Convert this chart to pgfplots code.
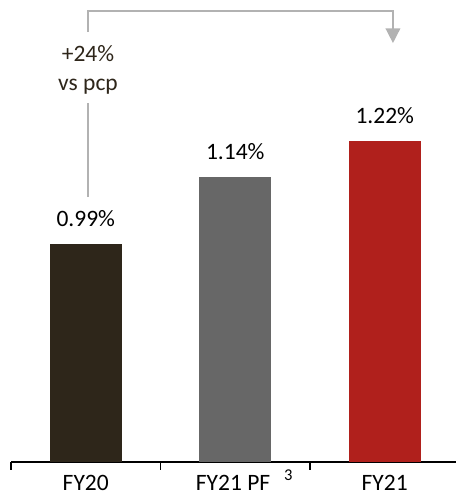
\documentclass[border=0pt]{standalone}
\usepackage{fontspec}
\setmainfont{Carlito}
\usepackage{pgfplots}
\pgfplotsset{compat=1.18}

\definecolor{fydark}{RGB}{46,38,26}
\definecolor{fygray}{RGB}{103,103,103}
\definecolor{fyred}{RGB}{176,32,28}
\definecolor{bracket}{RGB}{178,178,178}

\begin{document}
\begin{tikzpicture}
\begin{axis}[
  x=149.5bp, y=446.7bp,
  xmin=-0.5, xmax=2.5, ymin=0.502, ymax=1.5363,
  axis y line=none,
  axis x line*=bottom,
  x axis line style={black, line width=1.5bp},
  xtick={0,1,2},
  xticklabels={FY20, {\hspace*{18bp}FY21 PF\hspace{14bp}\raisebox{10bp}{\fontsize{16.5bp}{18bp}\selectfont 3}}, FY21},
  major tick length=0pt,
  minor xtick={-0.5,0.5,1.5,2.5},
  minor tick length=8bp,
  tick align=outside,
  every tick/.style={black, line width=1.5bp},
  ytick=\empty,
  xticklabel style={anchor=base, yshift=-29bp, inner sep=0pt, text=black},
  ybar, bar width=72bp,
  /pgf/number format/assume math mode=true,
  nodes near coords={\pgfmathprintnumber[fixed,precision=2,fixed zerofill]{\pgfplotspointmeta}\%},
  every node near coord/.append style={anchor=base, yshift=18bp, inner sep=0pt, text=black},
  font=\fontsize{23.5bp}{28bp}\selectfont,
  clip=true,
]
\addplot[bar shift=0pt, fill=fydark, draw=none] coordinates {(0,0.99)};
\addplot[bar shift=0pt, fill=fygray, draw=none] coordinates {(1,1.14)};
\addplot[bar shift=0pt, fill=fyred, draw=none] coordinates {(2,1.22)};

% growth bracket from FY20 to FY21
\draw[bracket, line width=2bp] (axis cs:0.015,1.0952) -- (axis cs:0.015,1.3057);
\draw[bracket, line width=2bp] (axis cs:0.015,1.4646) -- (axis cs:0.015,1.5116)
   -- (axis cs:2.055,1.5116) -- (axis cs:2.055,1.462);
\fill[bracket] (axis cs:2.005,1.4725) -- (axis cs:2.105,1.4725) -- (axis cs:2.055,1.440) -- cycle;
\node[anchor=base, inner sep=0pt, text=fydark] at (axis cs:0.015,1.3981) {+24\%};
\node[anchor=base, inner sep=0pt, text=fydark] at (axis cs:0.015,1.3332) {vs pcp};

\coordinate (bl) at (axis cs:-0.5736,0.4214);
\coordinate (tr) at (axis cs:2.4766,1.5363);
\end{axis}
\pgfresetboundingbox
\useasboundingbox (bl) rectangle (tr);
\end{tikzpicture}
\end{document}
